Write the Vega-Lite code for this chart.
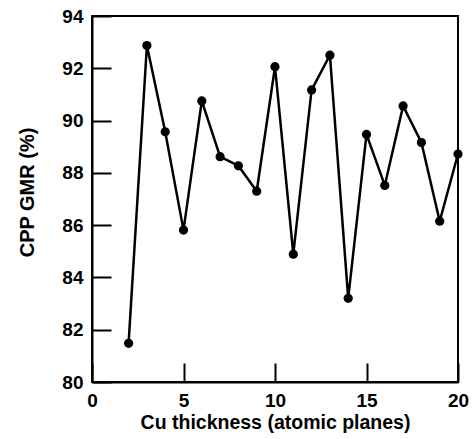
{
  "$schema": "https://vega.github.io/schema/vega-lite/v6.json",
  "width": 366,
  "height": 366,
  "autosize": "none",
  "padding": {"left": 92, "top": 16, "right": 14, "bottom": 57},
  "data": {"values": [
    {"t": 2, "gmr": 81.48},
    {"t": 3, "gmr": 92.87},
    {"t": 4, "gmr": 89.57},
    {"t": 5, "gmr": 85.81},
    {"t": 6, "gmr": 90.75},
    {"t": 7, "gmr": 88.62},
    {"t": 8, "gmr": 88.27},
    {"t": 9, "gmr": 87.30},
    {"t": 10, "gmr": 92.06},
    {"t": 11, "gmr": 84.89},
    {"t": 12, "gmr": 91.17},
    {"t": 13, "gmr": 92.50},
    {"t": 14, "gmr": 83.20},
    {"t": 15, "gmr": 89.47},
    {"t": 16, "gmr": 87.52},
    {"t": 17, "gmr": 90.56},
    {"t": 18, "gmr": 89.16},
    {"t": 19, "gmr": 86.15},
    {"t": 20, "gmr": 88.72}
  ]},
  "mark": {"type": "line", "color": "black", "strokeWidth": 2.5,
    "point": {"filled": true, "color": "black", "opacity": 1, "size": 85}},
  "encoding": {
    "x": {"field": "t", "type": "quantitative",
      "scale": {"domain": [0, 20], "nice": false, "zero": false},
      "axis": {"orient": "bottom", "values": [0, 5, 10, 15, 20], "grid": false, "labelFlush": false,
        "domainColor": "black", "domainWidth": 2,
        "tickColor": "black", "tickWidth": 2, "tickSize": -19,
        "labelPadding": 28, "labelFontSize": 19, "labelFont": "Liberation Sans", "labelFontWeight": "bold", "labelColor": "black",
        "title": "Cu thickness (atomic planes)", "titleFont": "Liberation Sans", "titleFontSize": 19.5, "titleFontWeight": "bold", "titleColor": "black",
        "titleY": 46, "titleBaseline": "alphabetic"}},
    "y": {"field": "gmr", "type": "quantitative",
      "scale": {"domain": [80, 94], "nice": false, "zero": false},
      "axis": {"orient": "left", "values": [80, 82, 84, 86, 88, 90, 92, 94], "grid": false, "labelFlush": false,
        "domainColor": "black", "domainWidth": 2,
        "tickColor": "black", "tickWidth": 2, "tickSize": -19,
        "labelPadding": 28, "labelFontSize": 19, "labelFont": "Liberation Sans", "labelFontWeight": "bold", "labelColor": "black",
        "title": "CPP GMR (%)", "titleFont": "Liberation Sans", "titleFontSize": 20, "titleFontWeight": "bold", "titleColor": "black",
        "titleX": -65, "titleY": 176, "titleBaseline": "middle", "titleAlign": "center", "titleAngle": -90}}
  },
  "config": {
    "view": {"stroke": "black", "strokeWidth": 2}
  }
}
